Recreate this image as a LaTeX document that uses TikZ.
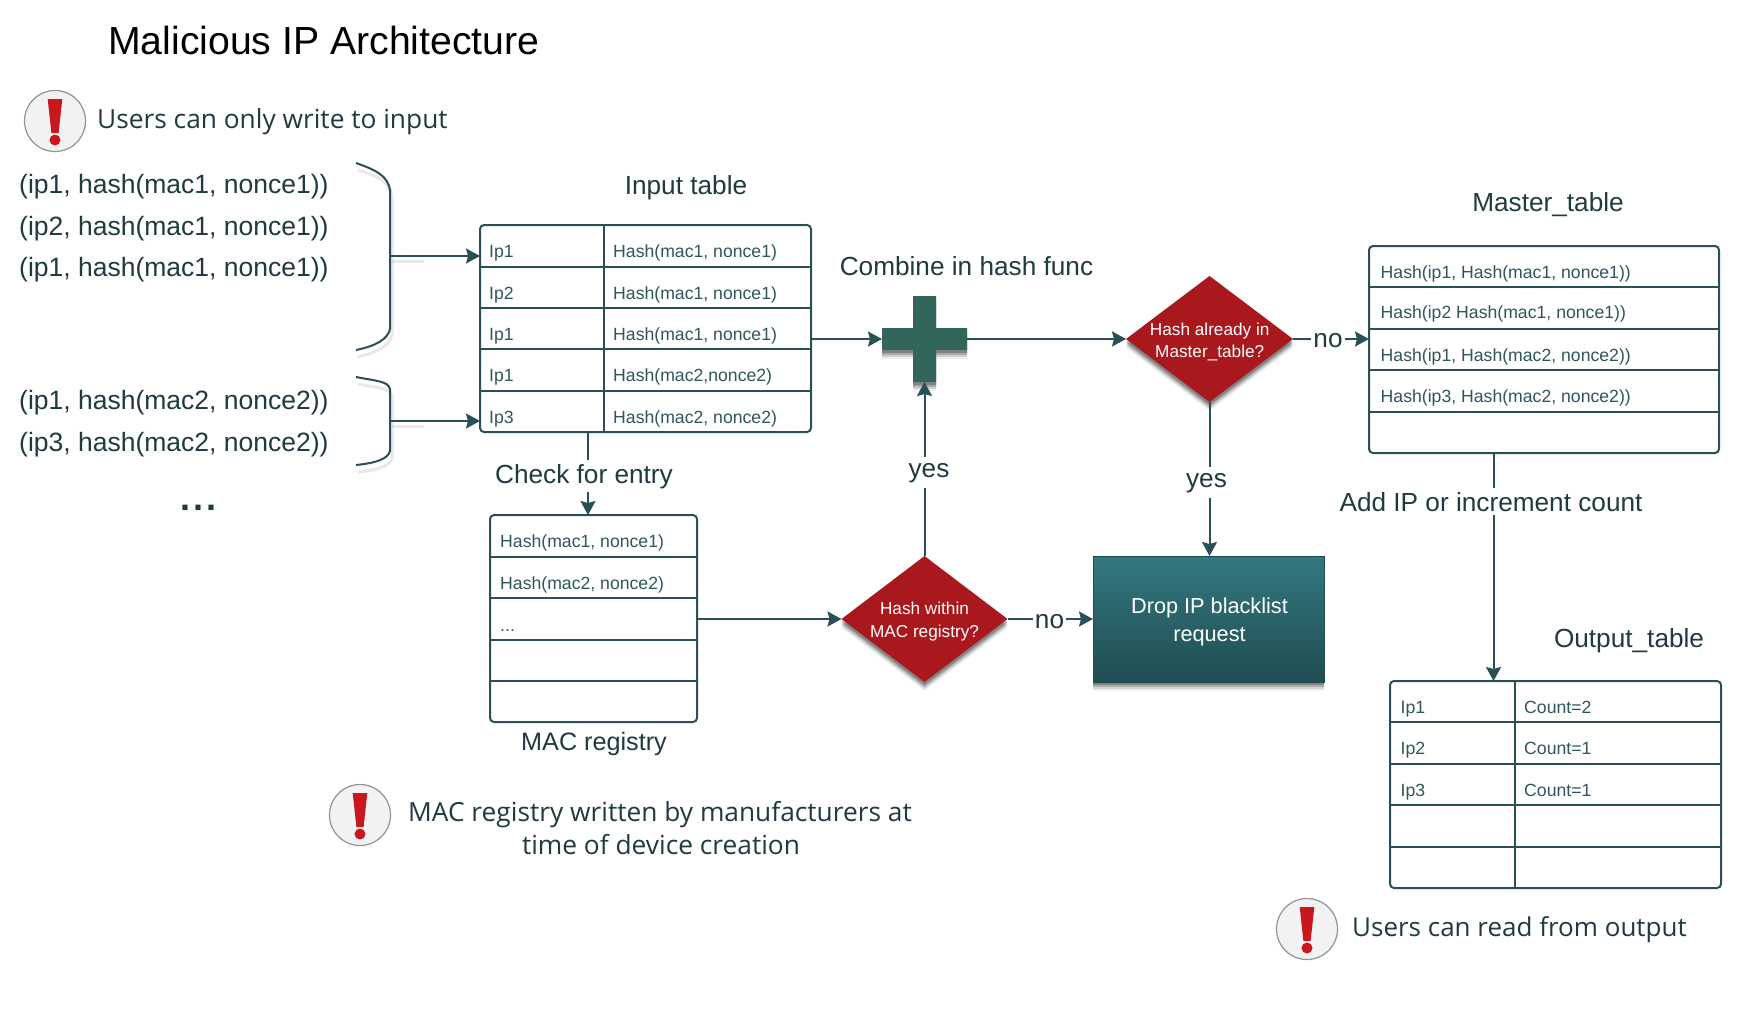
\documentclass[tikz,border=0pt]{standalone}
\usepackage{fontspec}
\setmainfont{Liberation Sans}
\newfontfamily\warnfont{Open Sans}
\usetikzlibrary{arrows.meta,shapes.geometric,shadows}
\definecolor{linec}{HTML}{2A5057}
\definecolor{labc}{HTML}{1F3A40}
\definecolor{cellc}{HTML}{2F565C}
\definecolor{redd}{HTML}{A8181C}
\definecolor{plusc}{HTML}{33665A}
\definecolor{warnred}{HTML}{C8171D}
\definecolor{droptop}{HTML}{33787F}
\definecolor{dropbot}{HTML}{1F4D52}
\definecolor{dropedge}{HTML}{1D4A4F}
\tikzset{
  x=1pt,y=-1pt,
  softshadow/.style={
    general shadow={shadow xshift=0pt,shadow yshift=-9pt,fill=black,opacity=.06},
    general shadow={shadow xshift=0pt,shadow yshift=-7pt,fill=black,opacity=.12},
    general shadow={shadow xshift=0pt,shadow yshift=-5pt,fill=black,opacity=.18},
    general shadow={shadow xshift=0pt,shadow yshift=-3pt,fill=black,opacity=.24}},
  tablebox/.style={draw=linec,line width=2pt,rounded corners=4pt,inner sep=0pt,outer sep=0pt},
  rowline/.style={draw=linec,line width=2pt},
  conn/.style={draw=linec,line width=2pt,-{Stealth[length=14pt,width=15pt,inset=2pt]}},
  bracec/.style={draw=linec,line width=2pt},
  braceshadow/.style={draw=black,line width=3pt,opacity=.09},
  titlet/.style={font=\fontsize{39.2}{42}\selectfont,text=black,anchor=base west,inner sep=0pt},
  tuplet/.style={font=\fontsize{26.5}{30}\selectfont,text=labc,anchor=base west,inner sep=0pt},
  labt/.style={font=\fontsize{26.2}{30}\selectfont,text=labc,anchor=base,inner sep=0pt},
  cellt/.style={font=\fontsize{17.65}{20}\selectfont,text=cellc,anchor=base west,inner sep=0pt},
  warnt/.style={font=\warnfont\fontsize{26.3}{30}\selectfont,text=labc,anchor=base west,inner sep=0pt},
  decisiont/.style={font=\fontsize{17.2}{20}\selectfont,text=white,anchor=base,inner sep=0pt},
  gapt/.style={labt,fill=white,inner xsep=2pt,inner ysep=6pt},
  decision/.style={diamond,fill=redd,draw=none,inner sep=0pt,outer sep=0pt,softshadow},
  warnc/.style={circle,draw=gray!85,fill=black!5,line width=1.2pt,minimum size=61pt,inner sep=0pt,outer sep=0pt}
}
\newcommand{\warnicon}[3]{%
  \node[warnc] (#1) at (#2,#3) {};
  \fill[warnred] ([shift={(-7.3,-22)}]#1.center) -- ([shift={(7.3,-22)}]#1.center) -- ([shift={(3.6,12)}]#1.center) -- ([shift={(-3.6,12)}]#1.center) -- cycle;
  \fill[warnred] ([shift={(0,19)}]#1.center) circle (5.5);
}
\begin{document}
\begin{tikzpicture}
\useasboundingbox (0,0) rectangle (1764,1010);
\fill[white] (0,0) rectangle (1764,1010);

\node[titlet] (title) at (108,54) {Malicious IP Architecture};

% warnings
\warnicon{w1}{55}{121}
\warnicon{w2}{360}{815}
\warnicon{w3}{1307}{929}
\node[warnt] (w1t) at (97,128) {Users can only write to input};
\node[warnt] (w2a) at (408,821) {MAC registry written by manufacturers at};
\node[warnt,anchor=base] (w2b) at (661,854) {time of device creation};
\node[warnt,font=\warnfont\fontsize{26}{30}\selectfont] (w3t) at (1352,936) {Users can read from output};

% tuples
\node[tuplet] (t1) at (19,193) {(ip1, hash(mac1, nonce1))};
\node[tuplet] (t2) at (19,235) {(ip2, hash(mac1, nonce1))};
\node[tuplet] (t3) at (19,276) {(ip1, hash(mac1, nonce1))};
\node[tuplet] (t4) at (19,409) {(ip1, hash(mac2, nonce2))};
\node[tuplet] (t5) at (19,451) {(ip3, hash(mac2, nonce2))};
\node[labt,font=\bfseries\fontsize{36}{36}\selectfont] (dots) at (199,510) {.\kern3pt.\kern3pt.};

% braces
\coordinate (b1tip) at (390,256);
\coordinate (b2tip) at (390,421);
\draw[braceshadow] (358,170) .. controls (378,176) and (390,182) .. (392,196) -- (392,335) .. controls (390,345) and (378,352) .. (358,357);
\draw[braceshadow] (358,384) .. controls (378,388) and (390,388) .. (392,396) -- (392,458) .. controls (390,466) and (378,470) .. (358,472);
\draw[braceshadow] (392,261) -- (424,261);
\draw[braceshadow] (392,426) -- (424,426);
\draw[bracec] (356,163) .. controls (376,170) and (388,176) .. (390,190) -- (390,329) .. controls (388,339) and (376,346) .. (356,350);
\draw[bracec] (356,377) .. controls (376,381) and (388,381) .. (390,389) -- (390,451) .. controls (388,459) and (376,463) .. (356,465);

% input table
\node[tablebox,minimum width=331pt,minimum height=207pt] (input) at (645.5,328.5) {};
\foreach \yy in {267,308,349,391}{\draw[rowline] (input.west |- 0,\yy) -- (input.east |- 0,\yy);}
\draw[rowline] (604,225) -- (604,432);
\foreach \yy/\aa/\bb in {257/Ip1/{Hash(mac1, nonce1)},299/Ip2/{Hash(mac1, nonce1)},340/Ip1/{Hash(mac1, nonce1)},381/Ip1/{Hash(mac2,nonce2)},423/Ip3/{Hash(mac2, nonce2)}}{
  \node[cellt] at (489,\yy) {\aa};
  \node[cellt] at (613,\yy) {\bb};
}
\node[labt] (inputl) at (686,194) {Input table};

% MAC table
\node[tablebox,minimum width=207pt,minimum height=207pt] (mac) at (593.5,618.5) {};
\foreach \yy in {557,598,640,681}{\draw[rowline] (mac.west |- 0,\yy) -- (mac.east |- 0,\yy);}
\node[cellt] at (500,547) {Hash(mac1, nonce1)};
\node[cellt] at (500,589) {Hash(mac2, nonce2)};
\node[cellt] at (500,631) {...};
\node[labt,font=\fontsize{25.2}{30}\selectfont] (macl) at (594,750) {MAC registry};

% master table
\node[tablebox,minimum width=350pt,minimum height=207pt] (master) at (1544,349.5) {};
\foreach \yy in {287,329,370,412}{\draw[rowline] (master.west |- 0,\yy) -- (master.east |- 0,\yy);}
\node[cellt] at (1380.5,278) {Hash(ip1, Hash(mac1, nonce1))};
\node[cellt] at (1380.5,318) {Hash(ip2 Hash(mac1, nonce1))};
\node[cellt] at (1380.5,361) {Hash(ip1, Hash(mac2, nonce2))};
\node[cellt] at (1380.5,402) {Hash(ip3, Hash(mac2, nonce2))};
\node[labt] (masterl) at (1548,211) {Master\_table};

% output table
\node[tablebox,minimum width=331pt,minimum height=207pt] (output) at (1555.5,784.5) {};
\foreach \yy in {722,764,805,847}{\draw[rowline] (output.west |- 0,\yy) -- (output.east |- 0,\yy);}
\draw[rowline] (1515,681) -- (1515,888);
\foreach \yy/\aa/\bb in {713/Ip1/Count=2,754/Ip2/Count=1,796/Ip3/Count=1}{
  \node[cellt] at (1400.5,\yy) {\aa};
  \node[cellt] at (1524,\yy) {\bb};
}
\node[labt] (outputl) at (1629,647) {Output\_table};

% plus
\node[inner sep=0pt,outer sep=0pt,minimum width=85pt,minimum height=86pt] (plus) at (924.5,339) {};
\path[fill=plusc,softshadow] (913,296) -- (936,296) -- (936,328) -- (967,328) -- (967,350) -- (936,350) -- (936,382) -- (913,382) -- (913,350) -- (882,350) -- (882,328) -- (913,328) -- cycle;

% decisions
\node[decision,aspect=1.317,minimum width=167pt,minimum height=126pt] (d1) at (1209.5,339) {};
\node[decisiont] (d1a) at (1209.7,335) {Hash already in};
\node[decisiont] (d1b) at (1209.7,357) {Master\_table?};
\node[decision,aspect=1.317,minimum width=166pt,minimum height=126pt] (d2) at (924.5,619) {};
\node[decisiont] (d2a) at (924.5,614) {Hash within};
\node[decisiont] (d2b) at (924.5,637) {MAC registry?};

% drop box
\node[inner sep=0pt,outer sep=0pt,draw=dropedge,line width=1pt,minimum width=231pt,minimum height=126pt,top color=droptop,bottom color=dropbot,softshadow] (drop) at (1208.5,619) {};
\node[labt,text=white,font=\fontsize{21.7}{26}\selectfont] (dropa) at (1209.5,613) {Drop IP blacklist};
\node[labt,text=white,font=\fontsize{21.7}{26}\selectfont] (dropb) at (1209.5,641) {request};

% connectors
\draw[conn] (b1tip) -- (input.west |- b1tip);
\draw[conn] (b2tip) -- (input.west |- b2tip);
\draw[conn] (input.east |- plus.west) -- (plus.west);
\draw[conn] (plus.east) -- (d1.west);
\draw[conn] (d1.east) -- (master.west |- d1.east);
\draw[conn] (d1.south) -- (drop.north -| d1.south);
\draw[conn] (d2.north) -- (plus.south);
\draw[conn] (d2.east) -- (drop.west |- d2.east);
\draw[conn] (mac.east |- d2.west) -- (d2.west);
\draw[conn] (input.south -| 588,0) -- (mac.north -| 588,0);
\draw[conn] (master.south -| 1493.5,0) -- (output.north -| 1493.5,0);

% connector labels
\node[gapt] (no1) at (1328,347) {no};
\node[gapt] (no2) at (1049.5,628) {no};
\node[gapt] (yes1) at (929,477) {yes};
\node[gapt] (yes2) at (1206.5,487) {yes};
\node[gapt,inner ysep=4pt] (check) at (584,483) {Check for entry};
\node[gapt,inner ysep=4pt] (addip) at (1491,511) {Add IP or increment count};
\node[labt] (combine) at (966.5,275) {Combine in hash func};
\end{tikzpicture}
\end{document}
